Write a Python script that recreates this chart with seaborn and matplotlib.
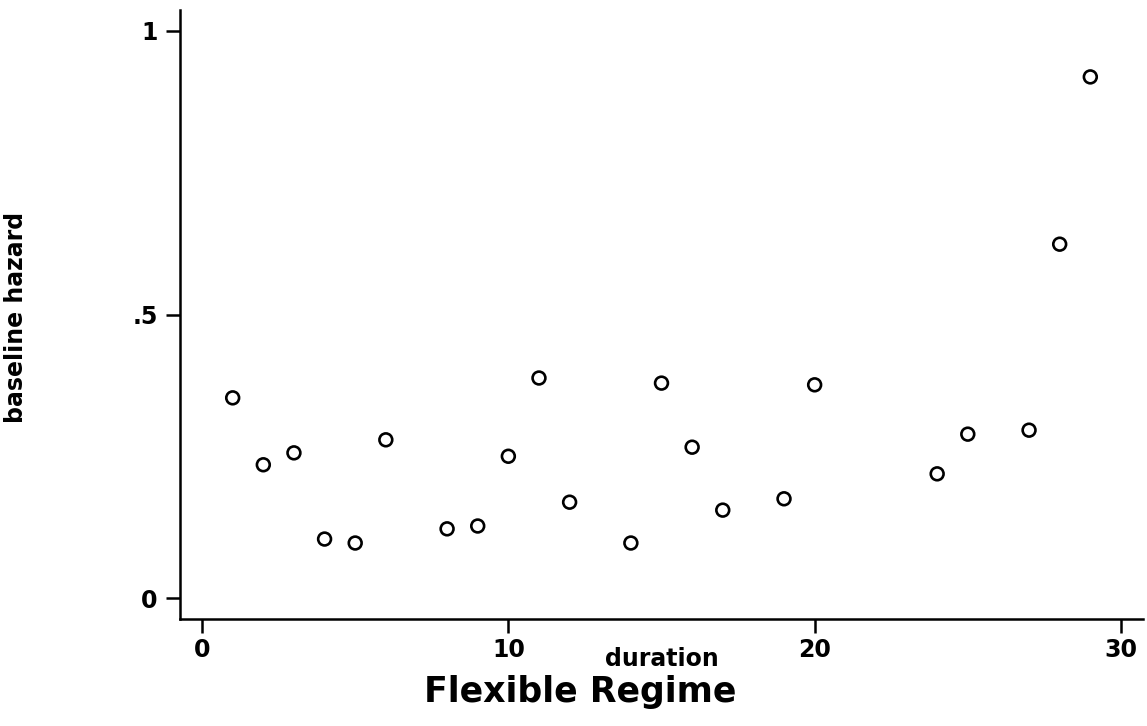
import matplotlib
matplotlib.use("Agg")
import matplotlib.pyplot as plt
import seaborn as sns
import pandas as pd

duration = [1, 2, 3, 4, 5, 6, 8, 9, 10, 11, 12, 14, 15, 16, 17, 19, 20, 24, 25, 27, 28, 29]
hazard = [0.353, 0.235, 0.256, 0.104, 0.097, 0.279, 0.122, 0.127, 0.250, 0.388, 0.169,
          0.097, 0.379, 0.266, 0.155, 0.175, 0.376, 0.219, 0.289, 0.296, 0.624, 0.919]
xticks = [0, 10, 20, 30]
yticks = [0, 0.5, 1]
yticklabels = ["0", ".5", "1"]

df = pd.DataFrame({"duration": duration, "hazard": hazard})

sns.set_style("ticks")
plt.rcParams["font.family"] = ["DejaVu Sans"]
plt.rcParams["text.color"] = "black"
plt.rcParams["axes.labelcolor"] = "black"

fig = plt.figure(figsize=(11.47, 7.26), dpi=100)
ax = fig.add_axes([180 / 1147, 1 - 619 / 726, (1143 - 180) / 1147, (619 - 10) / 726])

sns.scatterplot(data=df, x="duration", y="hazard", ax=ax, marker="o",
                s=85, facecolors="none", edgecolor="black", linewidth=1.9)

ax.set_xlim(-0.72, 30.72)
ax.set_ylim(-0.037, 1.037)
ax.set_xticks(xticks)
ax.set_xticklabels([str(t) for t in xticks])
ax.set_yticks(yticks)
ax.set_yticklabels(yticklabels)

for side in ["top", "right"]:
    ax.spines[side].set_visible(False)
for side in ["left", "bottom"]:
    ax.spines[side].set_color("black")
    ax.spines[side].set_linewidth(1.8)

ax.tick_params(axis="both", direction="out", length=10, width=1.8, colors="black",
               labelcolor="black", labelsize=17)
ax.tick_params(axis="y", pad=6)
ax.tick_params(axis="x", pad=4)
for lbl in ax.get_xticklabels() + ax.get_yticklabels():
    lbl.set_fontweight("bold")

ax.set_xlabel("duration", fontsize=17, fontweight="bold", color="black")
ax.xaxis.set_label_coords(0.5, -0.046)
ax.xaxis.label.set_va("top")
ax.set_ylabel("baseline hazard", fontsize=17, fontweight="bold", color="black")
ax.yaxis.set_label_coords(-0.158, 0.495)

fig.text(580 / 1147, 1 - 702 / 726, "Flexible Regime", fontsize=25, fontweight="bold",
         ha="center", va="baseline", color="black")

fig.savefig("out.png", dpi=100, facecolor="white")
